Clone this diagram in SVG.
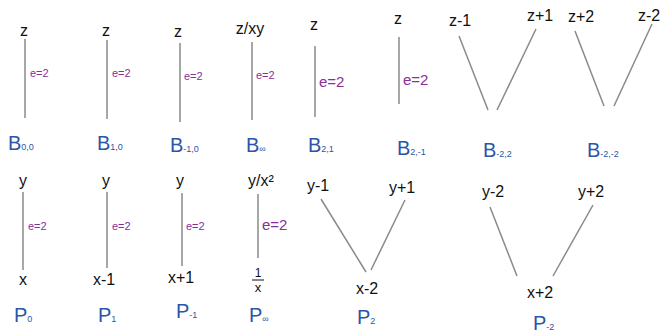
<svg xmlns="http://www.w3.org/2000/svg" width="664" height="334" viewBox="0 0 664 334">
<style>
.t{font-family:"Liberation Sans",sans-serif;font-size:16px;fill:#111;text-anchor:middle}
.e{font-family:"Liberation Sans",sans-serif;font-size:11px;fill:#8a2e9a}
.e2{font-family:"Liberation Sans",sans-serif;font-size:15px;fill:#8a2e9a}
.b{font-family:"Liberation Sans",sans-serif;font-size:20px;fill:#2a55a8}
.s{font-size:9px}
.c line{stroke:#8a8a8a;stroke-width:1.5}
</style>
<rect width="664" height="334" fill="#fff"/>
<g class="c" id="connectors">
<line x1="25" y1="39" x2="25" y2="118"/>
<line x1="107" y1="40" x2="107" y2="119"/>
<line x1="180" y1="43" x2="180" y2="122"/>
<line x1="252" y1="42" x2="252" y2="120"/>
<line x1="315" y1="46" x2="315" y2="117"/>
<line x1="399" y1="37" x2="399" y2="104"/>
<line x1="459" y1="36" x2="488" y2="110"/>
<line x1="536" y1="29" x2="497" y2="110"/>
<line x1="575" y1="31" x2="604" y2="106"/>
<line x1="652" y1="24" x2="614" y2="106"/>
<line x1="23" y1="192" x2="23" y2="270"/>
<line x1="107" y1="192" x2="107" y2="268"/>
<line x1="182" y1="193" x2="182" y2="266"/>
<line x1="258" y1="194" x2="258" y2="258"/>
<line x1="321" y1="199" x2="366" y2="272"/>
<line x1="405" y1="200" x2="371" y2="270"/>
<line x1="490" y1="207" x2="517" y2="276"/>
<line x1="593" y1="205" x2="553" y2="276"/>
</g>
<g id="B00"><text class="t" x="24" y="36">z</text><text class="e" x="30" y="77">e=2</text><text class="b" x="8" y="150">B<tspan class="s">0,0</tspan></text></g>
<g id="B10"><text class="t" x="106" y="36">z</text><text class="e" x="112" y="77">e=2</text><text class="b" x="97" y="150">B<tspan class="s">1,0</tspan></text></g>
<g id="Bm10"><text class="t" x="178" y="37">z</text><text class="e" x="184" y="80">e=2</text><text class="b" x="170" y="152">B<tspan class="s">-1,0</tspan></text></g>
<g id="Binf"><text class="t" x="250" y="34">z/xy</text><text class="e" x="256" y="79">e=2</text><text class="b" x="246" y="152">B<tspan class="s">∞</tspan></text></g>
<g id="B21"><text class="t" x="314" y="30">z</text><text class="e2" x="319" y="87">e=2</text><text class="b" x="308" y="152">B<tspan class="s">2,1</tspan></text></g>
<g id="B2m1"><text class="t" x="398" y="24">z</text><text class="e2" x="403" y="85">e=2</text><text class="b" x="397" y="155">B<tspan class="s">2,-1</tspan></text></g>
<g id="Bm22"><text class="t" x="460" y="26">z-1</text><text class="t" x="540" y="21">z+1</text><text class="b" x="483" y="157">B<tspan class="s">-2,2</tspan></text></g>
<g id="Bm2m2"><text class="t" x="581" y="22">z+2</text><text class="t" x="649" y="21">z-2</text><text class="b" x="587" y="157">B<tspan class="s">-2,-2</tspan></text></g>
<g id="P0"><text class="t" x="23" y="186">y</text><text class="e" x="28" y="230">e=2</text><text class="t" x="23" y="285">x</text><text class="b" x="14" y="322">P<tspan class="s">0</tspan></text></g>
<g id="P1"><text class="t" x="106" y="186">y</text><text class="e" x="112" y="230">e=2</text><text class="t" x="104" y="285">x-1</text><text class="b" x="98" y="322">P<tspan class="s">1</tspan></text></g>
<g id="Pm1"><text class="t" x="180" y="186">y</text><text class="e" x="186" y="230">e=2</text><text class="t" x="181" y="283">x+1</text><text class="b" x="176" y="318">P<tspan class="s">-1</tspan></text></g>
<g id="Pinf"><text class="t" x="261" y="186">y/x²</text><text class="e2" x="262" y="230">e=2</text><text class="t" x="258" y="277" style="font-size:12px">1</text><line x1="252" y1="280" x2="264" y2="280" stroke="#111" stroke-width="1"/><text class="t" x="258" y="292" style="font-size:13px">x</text><text class="b" x="249" y="322">P<tspan class="s">∞</tspan></text></g>
<g id="P2"><text class="t" x="318" y="191">y-1</text><text class="t" x="402" y="193">y+1</text><text class="t" x="367" y="294">x-2</text><text class="b" x="357" y="324">P<tspan class="s">2</tspan></text></g>
<g id="Pm2"><text class="t" x="493" y="197">y-2</text><text class="t" x="591" y="197">y+2</text><text class="t" x="540" y="298">x+2</text><text class="b" x="533" y="330">P<tspan class="s">-2</tspan></text></g>
</svg>
